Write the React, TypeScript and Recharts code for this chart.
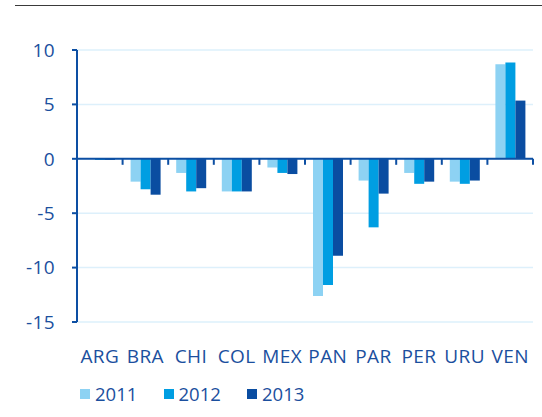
import React from "react";
import {
  BarChart,
  Bar,
  XAxis,
  YAxis,
  CartesianGrid,
  ReferenceLine,
} from "recharts";

const categories = ["ARG", "BRA", "CHI", "COL", "MEX", "PAN", "PAR", "PER", "URU", "VEN"];
const s2011 = [0, -2.1, -1.3, -3.0, -0.8, -12.6, -2.0, -1.3, -2.1, 8.7];
const s2012 = [-0.1, -2.8, -3.0, -3.0, -1.3, -11.6, -6.3, -2.3, -2.3, 8.85];
const s2013 = [-0.1, -3.3, -2.7, -3.0, -1.4, -8.9, -3.2, -2.1, -2.0, 5.35];
const seriesNames = ["2011", "2012", "2013"];
const yTicks = [-15, -10, -5, 0, 5, 10];

const COLORS = ["#8DD2F3", "#009EE2", "#0A4DA1"];
const AXIS = "#0D4FA3";
const TEXT = "#1B4F9E";
const GRID = "#DDF0FB";
const FONT = "'Open Sans', sans-serif";

const data = categories.map((c, i) => ({
  name: c,
  y2011: s2011[i],
  y2012: s2012[i],
  y2013: s2013[i],
}));

const ZeroAxis = (props: any) => {
  const { x1, x2, y1 } = props;
  const n = categories.length;
  const step = (x2 - x1) / n;
  const ticks = Array.from({ length: n + 1 }, (_, i) => x1 + i * step);
  return (
    <g>
      <line x1={x1} x2={x2} y1={y1} y2={y1} stroke={AXIS} strokeWidth={2} />
      {ticks.map((tx, i) => (
        <line key={i} x1={tx} x2={tx} y1={y1} y2={y1 + 6} stroke={AXIS} strokeWidth={2} />
      ))}
    </g>
  );
};

const LegendBlock = () => (
  <div
    style={{
      position: "absolute",
      left: 80,
      top: 384,
      display: "flex",
      alignItems: "center",
      fontFamily: FONT,
      fontSize: 18.5,
      fontWeight: 500,
      color: TEXT,
      lineHeight: "20px",
    }}
  >
    {seriesNames.map((s, i) => (
      <div key={s} style={{ display: "flex", alignItems: "center", width: 83.5 }}>
        <div style={{ width: 10, height: 10, background: COLORS[i], marginRight: 5 }} />
        <span>{s}</span>
      </div>
    ))}
  </div>
);

const tickStyle = { fill: TEXT, fontSize: 19, fontWeight: 500, fontFamily: FONT, letterSpacing: 0.4 };

export default function App() {
  return (
    <div style={{ position: "absolute", left: 0, top: 0, width: 542, height: 417, background: "#fff" }}>
      <div
        style={{
          position: "absolute",
          left: 15,
          top: 5,
          width: 527,
          height: 0,
          borderTop: "1.5px solid #3a3a3a",
        }}
      />
      <BarChart
        width={542}
        height={417}
        data={data}
        margin={{ top: 50, right: 9, bottom: 65, left: 0 }}
        barGap={0}
        barSize={10}
      >
        <CartesianGrid vertical={false} stroke={GRID} strokeWidth={1.5} />
        <XAxis
          dataKey="name"
          height={30}
          axisLine={false}
          tickLine={false}
          tickSize={0}
          tickMargin={28}
          interval={0}
          tick={tickStyle}
        />
        <YAxis
          width={77}
          domain={[-15, 10]}
          ticks={yTicks}
          interval={0}
          axisLine={{ stroke: AXIS, strokeWidth: 2 }}
          tickLine={{ stroke: AXIS, strokeWidth: 2 }}
          tickSize={5}
          tickMargin={17}
          tick={tickStyle}
        />
        <Bar dataKey="y2011" name="2011" fill={COLORS[0]} isAnimationActive={false} />
        <Bar dataKey="y2012" name="2012" fill={COLORS[1]} isAnimationActive={false} />
        <Bar dataKey="y2013" name="2013" fill={COLORS[2]} isAnimationActive={false} />
        <ReferenceLine y={0} shape={ZeroAxis} ifOverflow="visible" />
      </BarChart>
      <LegendBlock />
    </div>
  );
}
